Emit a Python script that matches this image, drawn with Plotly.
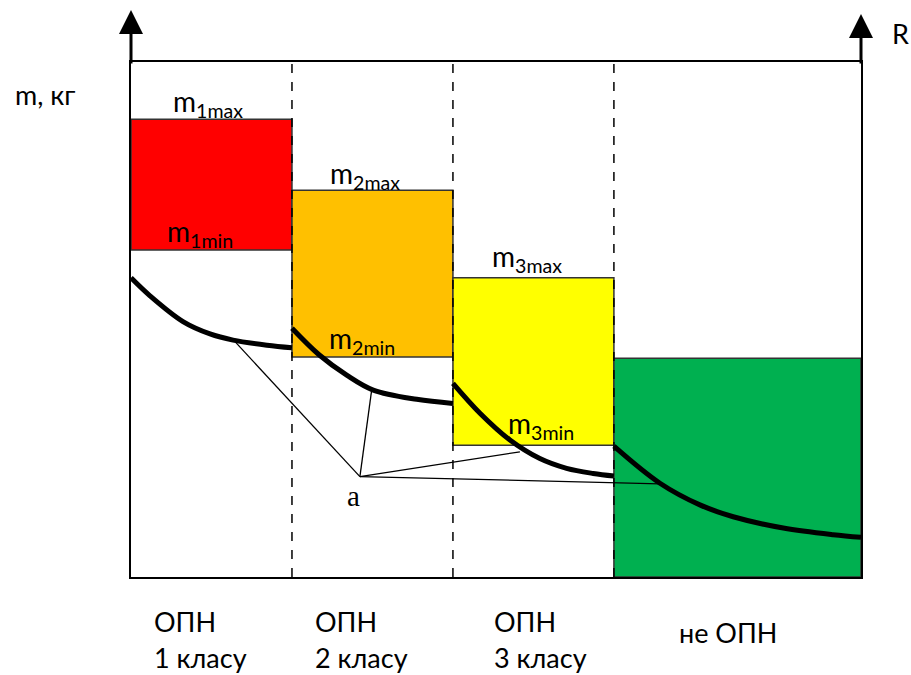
import plotly.graph_objects as go

# Class boundaries along R (class widths) and mass zones
bounds = [0.0, 1.0, 2.0, 3.0, 4.535]
zone_min = [63.5, 42.7, 25.6, 0.0]
zone_max = [88.9, 75.1, 58.1, 42.5]
zone_colors = ["#FF0000", "#FFC000", "#FFFF00", "#00B050"]
Y_TOP = 100.0

# Thick curves m(R) per class
c1_x = [0.0, 0.118, 0.323, 0.491, 0.634, 0.845, 1.0]
c1_y = [58.1, 54.6, 49.6, 47.2, 46.0, 45.0, 44.5]
c2_x = [1.0, 1.17, 1.34, 1.505, 1.775, 2.0]
c2_y = [48.3, 43.1, 39.2, 36.3, 34.5, 33.7]
c3_x = [2.0, 2.168, 2.354, 2.54, 2.706, 2.871, 3.0]
c3_y = [37.6, 31.8, 26.6, 23.0, 21.1, 20.1, 19.6]
c4_x = [3.0, 3.286, 3.534, 3.741, 4.052, 4.362, 4.535]
c4_y = [25.4, 18.2, 14.0, 11.7, 9.5, 8.2, 7.7]

# Point "a" and the curve points it is linked to
a_pt = (1.422, 19.5)
a_label = (1.383, 15.7)
a_links_x = [0.646, 1.495, 2.416, 3.286]
a_links_y = [45.7, 36.3, 24.3, 18.1]

zone_labels = ["m<sub>1max</sub>", "m<sub>1min</sub>", "m<sub>2max</sub>", "m<sub>2min</sub>",
               "m<sub>3max</sub>", "m<sub>3min</sub>"]
zone_label_x = [0.478, 0.43, 1.453, 1.435, 2.46, 2.55]
zone_label_y = [92.0, 66.8, 78.0, 46.0, 61.9, 29.5]

class_top = ["ОПН", "ОПН", "ОПН"]
class_bottom = ["1 класу", "2 класу", "3 класу"]
class_x = [0.129, 1.128, 2.24]
last_class = "не ОПН"

FONT = "Lato, 'Noto Sans', sans-serif"
XMAX = bounds[-1]


def px(x):
    return x / XMAX


def py(y):
    return y / Y_TOP


fig = go.Figure()

centers = [(bounds[i] + bounds[i + 1]) / 2 for i in range(4)]
widths = [bounds[i + 1] - bounds[i] for i in range(4)]
fig.add_trace(go.Bar(
    x=centers, y=[zone_max[i] - zone_min[i] for i in range(4)], base=zone_min,
    width=widths, marker=dict(color=zone_colors, line=dict(color="#333333", width=1.5)),
    hoverinfo="skip", showlegend=False))

for b in bounds[1:4]:
    fig.add_trace(go.Scatter(x=[b, b], y=[0, Y_TOP], mode="lines",
                             line=dict(color="black", width=1.5, dash="dash"),
                             hoverinfo="skip", showlegend=False))

for lx, ly in zip(a_links_x, a_links_y):
    fig.add_trace(go.Scatter(x=[a_pt[0], lx], y=[a_pt[1], ly], mode="lines",
                             line=dict(color="black", width=1.3),
                             hoverinfo="skip", showlegend=False))

for cx, cy in [(c1_x, c1_y), (c2_x, c2_y), (c3_x, c3_y), (c4_x, c4_y)]:
    fig.add_trace(go.Scatter(x=cx, y=cy, mode="lines",
                             line=dict(color="black", width=5, shape="spline"),
                             hoverinfo="skip", showlegend=False))


def label(x, y, text, size, family=FONT, xanchor="center"):
    return dict(x=px(x), y=py(y), xref="paper", yref="paper", text=text, showarrow=False,
                xanchor=xanchor, yanchor="middle", font=dict(family=family, size=size, color="black"))


ann = []
for t, x, y in zip(zone_labels, zone_label_x, zone_label_y):
    ann.append(label(x, y, t, 28))
ann.append(label(a_label[0], a_label[1], "a", 29, family="'Liberation Serif', serif"))
for t1, t2, x in zip(class_top, class_bottom, class_x):
    ann.append(label(x, -8.7, t1, 27, xanchor="left"))
    ann.append(label(x, -15.6, t2, 27, xanchor="left"))
ann.append(label(3.708, -10.7, last_class, 27))
ann.append(label(-0.733, 93.6, "m, кг", 27, xanchor="left"))
ann.append(label(4.778, 105.5, "R", 27))
# axis arrows
ann.append(dict(x=0, y=py(110.1), xref="paper", yref="paper", ax=0, ay=55, text="",
                showarrow=True, arrowhead=2, arrowsize=1.6, arrowwidth=3, arrowcolor="black"))
ann.append(dict(x=1, y=py(109.3), xref="paper", yref="paper", ax=0, ay=51, text="",
                showarrow=True, arrowhead=2, arrowsize=1.6, arrowwidth=3, arrowcolor="black"))

fig.update_layout(
    width=911, height=675, autosize=False,
    margin=dict(l=131, r=50, t=62, b=98),
    paper_bgcolor="white", plot_bgcolor="white",
    barmode="overlay", showlegend=False,
    annotations=ann,
    xaxis=dict(range=[0, XMAX], showgrid=False, zeroline=False, showticklabels=False,
               ticks="", showline=True, mirror=True, linecolor="black", linewidth=2, fixedrange=True),
    yaxis=dict(range=[0, Y_TOP], showgrid=False, zeroline=False, showticklabels=False,
               ticks="", showline=True, mirror=True, linecolor="black", linewidth=2, fixedrange=True),
)

fig.write_html("out.html", config={"displayModeBar": False},
               post_script="document.body.style.margin='0';document.body.style.overflow='hidden';")
